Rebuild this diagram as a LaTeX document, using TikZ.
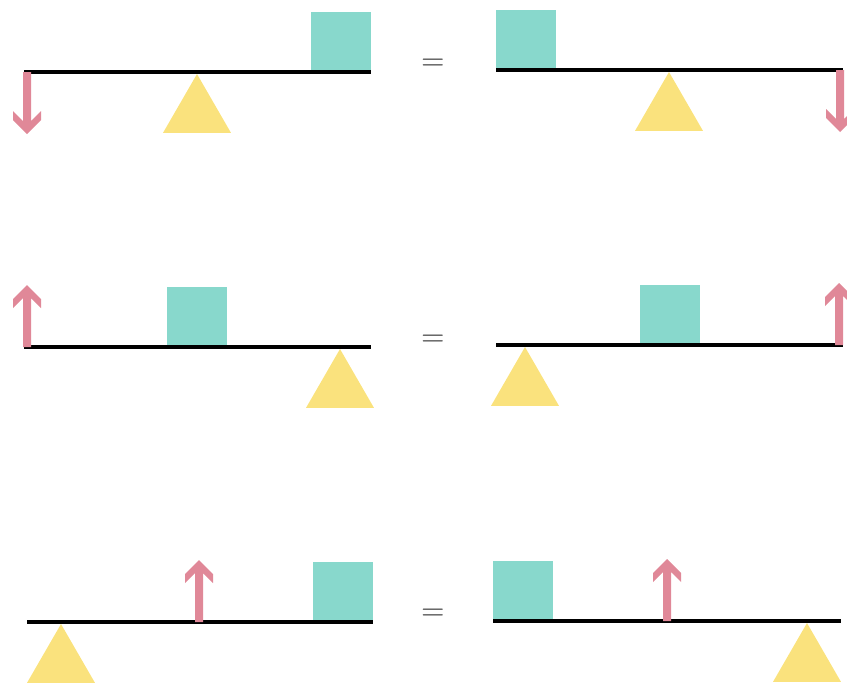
\documentclass[tikz,border=0pt]{standalone}
\usepackage{xcolor}
\usepackage{tikz}
\usetikzlibrary{shapes.geometric}
\definecolor{loadteal}{RGB}{136,216,204}
\definecolor{pivotyellow}{RGB}{250,226,125}
\definecolor{forcepink}{RGB}{224,136,152}
\definecolor{eqgray}{RGB}{50,50,50}

\begin{document}
\begin{tikzpicture}[
  x=1pt, y=-1pt,
  beam/.style={line width=4.5pt, black},
  load/.style={fill=loadteal, draw=none, minimum size=60pt, inner sep=0pt,
    outer sep=0pt, anchor=south},
  pivot/.style={regular polygon, regular polygon sides=3, fill=pivotyellow,
    draw=none, minimum size=78.5pt, inner sep=0pt, outer sep=0pt, anchor=corner 1},
  eq/.style={text=eqgray, font=\fontsize{32}{32}\selectfont, inner sep=0pt},
  force/.pic={\fill[forcepink] (0,62) -- (-14,48) -- (-14,39) -- (-4,49)
    -- (-4,0) -- (4,0) -- (4,49) -- (14,39) -- (14,48) -- cycle;}
]
  \useasboundingbox (0,0) rectangle (847,688);

  % first row
  \node[load] (loadL1) at (341,72) {};
  \node[pivot] (pivL1) at (197,74) {};
  \coordinate (barL1a) at (24,72);
  \coordinate (barL1b) at (371,72);
  \draw[beam] (barL1a) -- (barL1b);
  \pic at (27,72) {force};

  \node[eq] (eq1) at (433,65) {=};

  \node[load] (loadR1) at (526,70) {};
  \node[pivot] (pivR1) at (669,72) {};
  \coordinate (barR1a) at (496,70);
  \coordinate (barR1b) at (843,70);
  \draw[beam] (barR1a) -- (barR1b);
  \pic at (840,70) {force};

  % second row
  \node[load] (loadL2) at (197,347) {};
  \node[pivot] (pivL2) at (340,349) {};
  \coordinate (barL2a) at (24,347);
  \coordinate (barL2b) at (371,347);
  \draw[beam] (barL2a) -- (barL2b);
  \pic[rotate=180] at (27,347) {force};

  \node[eq] (eq2) at (433,341) {=};

  \node[load] (loadR2) at (670,345) {};
  \node[pivot] (pivR2) at (525,347) {};
  \coordinate (barR2a) at (496,345);
  \coordinate (barR2b) at (843,345);
  \draw[beam] (barR2a) -- (barR2b);
  \pic[rotate=180] at (839,345) {force};

  % third row
  \node[load] (loadL3) at (343,622) {};
  \node[pivot] (pivL3) at (61,624) {};
  \coordinate (barL3a) at (27,622);
  \coordinate (barL3b) at (373,622);
  \draw[beam] (barL3a) -- (barL3b);
  \pic[rotate=180] at (199,622) {force};

  \node[eq] (eq3) at (433,615) {=};

  \node[load] (loadR3) at (523,621) {};
  \node[pivot] (pivR3) at (807,623) {};
  \coordinate (barR3a) at (493,621);
  \coordinate (barR3b) at (841,621);
  \draw[beam] (barR3a) -- (barR3b);
  \pic[rotate=180] at (667,621) {force};
\end{tikzpicture}
\end{document}
